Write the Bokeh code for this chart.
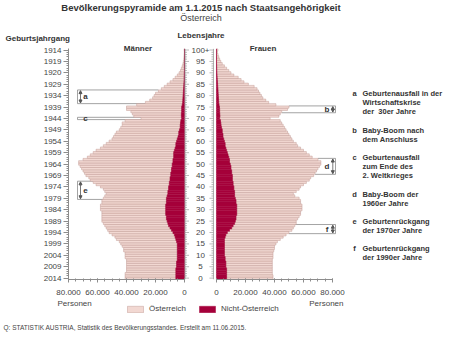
from bokeh.plotting import figure
from bokeh.models import (ColumnDataSource, FixedTicker, Range1d, Label, Legend,
                          LegendItem, Arrow, NormalHead, LinearAxis)
from bokeh.embed import file_html
from bokeh.resources import INLINE
from bokeh.core.properties import value

# ---------------- data (thousand persons, age 0 .. 100+) ----------------
ages = list(range(101))
men_at = [35, 35, 35, 34, 34, 34.5, 34.5, 34.5, 35, 36,
          36, 36, 37, 37, 38, 39, 39.5, 41, 41.5, 43,
          44, 44, 44, 44, 44.5, 45, 44.5, 44.5, 44, 44,
          45, 45, 45, 44.5, 44.5, 43.5, 43, 42.5, 43.5, 45,
          47, 50.5, 52.5, 55, 56, 58.5, 59.5, 61, 62, 63.5,
          64.5, 65, 62, 59.5, 57.5, 55.5, 54, 51.5, 50, 48,
          46.5, 45, 44.5, 44, 43, 41.5, 41, 40, 40.2, 38.4,
          28, 32.8, 33.8, 35, 38, 38, 31.4, 25.7, 22.8, 20.9,
          20, 19.1, 17.2, 15.3, 13.4, 11.5, 9.6, 7.7, 6.2, 4.8,
          3.6, 2.7, 2.1, 1.5, 1.0, 0.75, 0.48, 0.38, 0.28, 0.18, 0.28]
men_nat = [6, 6, 6, 6, 6, 5.5, 5.5, 5.5, 5, 5,
           5, 5, 5, 5, 5, 5, 5.5, 6, 6.5, 7,
           8, 9, 10, 11, 11.5, 12, 12.5, 12.5, 13, 13,
           13, 13, 13, 12.5, 12.5, 12.5, 12, 11.5, 11.5, 11,
           11, 10.5, 10.5, 10, 10, 9.5, 9.5, 9, 9, 8.5,
           8.5, 8, 8, 7.5, 7.5, 7.5, 7, 6.5, 6, 6,
           5.5, 5, 4.5, 4, 4, 3.5, 3, 3, 2.8, 2.6,
           2, 2.2, 2.2, 2, 2, 2, 1.6, 1.3, 1.2, 1.1,
           1, 0.9, 0.8, 0.7, 0.6, 0.5, 0.4, 0.3, 0.3, 0.2,
           0.2, 0.1, 0.1, 0.1, 0.1, 0.05, 0.02, 0.02, 0.02, 0.02, 0.02]
women_at = [32, 32, 31.5, 31.5, 31.5, 32, 32, 32, 32.5, 33,
            33.5, 33.5, 34, 34.5, 34.5, 35.5, 36.5, 38.5, 40, 41.5,
            42.5, 43, 42.5, 42.5, 42.5, 42, 42.5, 43.5, 44, 44,
            45, 45, 45, 44.5, 44.5, 44, 41.5, 40.5, 42.5, 45,
            46, 48.5, 50.5, 53, 54, 56, 57.5, 58.5, 60, 61,
            62.5, 63, 61, 57.5, 56, 54.5, 53, 51.5, 50, 49,
            47.5, 47, 46.5, 45.5, 45, 44, 43.5, 42.8, 42, 41.2,
            34.8, 40.6, 41.7, 42.8, 46.8, 47.9, 39.2, 34.4, 32.5, 30.6,
            29.7, 28.8, 27.9, 27, 25.1, 21.2, 18.3, 16.4, 14.5, 11.6,
            9.7, 8.25, 6.8, 5.35, 3.9, 2.92, 2.14, 1.55, 1.06, 0.67, 0.97]
women_nat = [7, 7, 7, 7, 7, 6.5, 6.5, 6.5, 6, 6,
             5.5, 5.5, 5.5, 5.5, 5.5, 5.5, 5.5, 5.5, 6, 6.5,
             7.5, 9, 10.5, 11.5, 12.5, 13, 13.5, 13.5, 14, 14,
             14, 14, 14, 13.5, 13.5, 13, 12.5, 12.5, 12.5, 12,
             12, 11.5, 11.5, 11, 11, 11, 10.5, 10.5, 10, 10,
             9.5, 9, 9, 8.5, 8, 7.5, 7, 6.5, 6, 6,
             5.5, 5, 4.5, 4.5, 4, 4, 3.5, 3.2, 3, 2.8,
             2.2, 2.4, 2.3, 2.2, 2.2, 2.1, 1.8, 1.6, 1.5, 1.4,
             1.3, 1.2, 1.1, 1, 0.9, 0.8, 0.7, 0.6, 0.5, 0.4,
             0.3, 0.25, 0.2, 0.15, 0.1, 0.08, 0.06, 0.05, 0.04, 0.03, 0.03]

age_tick_pos = [0, 5, 10, 15, 20, 25, 30, 35, 40, 45, 50, 55, 60, 65, 70, 75, 80, 85, 90, 95, 100]
age_tick_labels = ["0", "5", "10", "15", "20", "25", "30", "35", "40", "45", "50",
                   "55", "60", "65", "70", "75", "80", "85", "90", "95", "100+"]
birth_labels = ["2014", "2009", "2004", "1999", "1994", "1989", "1984", "1979", "1974",
                "1969", "1964", "1959", "1954", "1949", "1944", "1939", "1934", "1929",
                "1920", "1919", "1914"]
person_ticks = [0, 20000, 40000, 60000, 80000]
person_labels = ["0", "20.000", "40.000", "60.000", "80.000"]

ann_letters = ["a", "b", "c", "d", "e", "f"]
ann_side = ["m", "w", "m", "w", "m", "w"]
ann_age_from = [76.5, 72.5, 69.5, 45.5, 34.5, 19.5]
ann_age_to = [82.5, 75.5, 70.5, 52.5, 42.5, 23.5]
note_lines = [
    ["Geburtenausfall in der", "Wirtschaftskrise", "der \u00a030er Jahre"],
    ["Baby-Boom nach", "dem Anschluss"],
    ["Geburtenausfall", "zum Ende des", "2. Weltkrieges"],
    ["Baby-Boom der", "1960er Jahre"],
    ["Geburtenrückgang", "der 1970er Jahre"],
    ["Geburtenrückgang", "der 1990er Jahre"],
]
legend_labels = ["Österreich", "Nicht-Österreich"]

# ---------------- geometry ----------------
G = 11000            # half gap between the two halves (persons)
XMAX = 80000
FONT = "Liberation Sans"
TXT = "#333333"
TICKTXT = "#444444"
LIGHT = "#f2d8d2"
LIGHT_LINE = "#c29d97"
DARK = "#a5003a"
GRID = "#8c8c8c"

XPP = (2 * (G + XMAX)) / 264.0      # persons per pixel (frame 68..332 px)
YPP = 103.9 / 237.0                 # years per pixel


def X(px):
    return -G - XMAX + (px - 68) * XPP


def Y(py):
    return -0.6 + (279 - py) * YPP


p = figure(width=450, height=337, output_backend="svg", toolbar_location=None,
           x_range=Range1d(X(0), X(450)), y_range=Range1d(Y(337), Y(0)),
           x_axis_location=None, y_axis_location=None, min_border=0)
p.title.visible = False
p.outline_line_color = None
p.xgrid.visible = False
p.ygrid.visible = False
p.background_fill_color = "white"
p.border_fill_color = "white"

k = 1000.0
src = ColumnDataSource(dict(
    age=ages,
    m_nat_l=[-G - k * n for n in men_nat],
    m_at_l=[-G - k * (n + a) for n, a in zip(men_nat, men_at)],
    w_nat_r=[G + k * n for n in women_nat],
    w_at_r=[G + k * (n + a) for n, a in zip(women_nat, women_at)],
))

# ---- annotation boxes (under the bars) ----
m_tot = [k * (a + n) for a, n in zip(men_at, men_nat)]
w_tot = [k * (a + n) for a, n in zip(women_at, women_nat)]
m_outer, m_arrow, m_letter = X(77), X(80), X(85)
w_outer, w_arrow, w_letter = X(335), X(332.3), X(326.5)
hx0, hx1, hy = [], [], []
vx, vy0, vy1 = [], [], []
ax, ay0, ay1 = [], [], []
lx, ly, lt = [], [], []
for let, side, a0, a1 in zip(ann_letters, ann_side, ann_age_from, ann_age_to):
    top_in = int(a1 - 0.5)
    bot_in = int(a0 + 0.5)
    if side == "m":
        outer, arr, lxx = m_outer, m_arrow, m_letter
        e_top, e_bot = -G - m_tot[top_in], -G - m_tot[bot_in]
    else:
        outer, arr, lxx = w_outer, w_arrow, w_letter
        e_top, e_bot = G + w_tot[top_in], G + w_tot[bot_in]
    hx0 += [outer, outer]
    hx1 += [e_top, e_bot]
    hy += [a1, a0]
    vx.append(outer); vy0.append(a0); vy1.append(a1)
    if a1 - a0 > 2:
        ax.append(arr); ay0.append(a0 + 0.3); ay1.append(a1 - 0.3)
    lx.append(lxx); ly.append((a0 + a1) / 2.0); lt.append(let)

p.segment(x0=hx0, y0=hy, x1=hx1, y1=hy, line_color=GRID, line_width=0.8)
p.segment(x0=vx, y0=vy0, x1=vx, y1=vy1, line_color=GRID, line_width=0.8)
arr_src = ColumnDataSource(dict(x=ax, y0=ay0, y1=ay1))
p.add_layout(Arrow(x_start="x", y_start="y0", x_end="x", y_end="y1", source=arr_src,
                   line_color="#555555", line_width=0.8,
                   start=NormalHead(size=3, line_color="#555555", fill_color="#555555"),
                   end=NormalHead(size=3, line_color="#555555", fill_color="#555555")))
p.text(x=lx, y=ly, text=lt, text_align="center", text_baseline="middle",
       text_font_size="8px", text_font_style="bold", text_color=TXT, text_font=value(FONT))

# ---- bars ----
r_m_at = p.hbar(y="age", left="m_at_l", right="m_nat_l", height=1.0, source=src,
                fill_color=LIGHT, line_color=LIGHT_LINE, line_width=0.5)
r_m_nat = p.hbar(y="age", left="m_nat_l", right=-G, height=1.0, source=src,
                 fill_color=DARK, line_color=DARK, line_width=0.5)
p.hbar(y="age", left="w_nat_r", right="w_at_r", height=1.0, source=src,
       fill_color=LIGHT, line_color=LIGHT_LINE, line_width=0.5)
p.hbar(y="age", left=G, right="w_nat_r", height=1.0, source=src,
       fill_color=DARK, line_color=DARK, line_width=0.5)

# ---- central age scale ----
cx_l, cx_r = -G + 0.5 * XPP, G - 3 * XPP
p.segment(x0=[cx_l, cx_r], y0=[-0.5, -0.5], x1=[cx_l, cx_r], y1=[100.5, 100.5],
          line_color=GRID, line_width=0.7)
tick_len = [(4 if a % 5 == 0 else 2) * XPP for a in ages]
p.segment(x0=[cx_l] * len(ages), y0=ages, x1=[cx_l + t for t in tick_len], y1=ages,
          line_color=GRID, line_width=0.6)
p.segment(x0=[cx_r] * len(ages), y0=ages, x1=[cx_r - t for t in tick_len], y1=ages,
          line_color=GRID, line_width=0.6)
p.text(x=[0] * len(age_tick_pos), y=age_tick_pos, text=age_tick_labels,
       text_align="center", text_baseline="middle", text_font_size="8px",
       text_color=TICKTXT, text_font=value(FONT))


# ---- axes (drawn at fixed positions inside the canvas) ----
def style_axis(ax_):
    ax_.axis_line_color = GRID
    ax_.major_tick_line_color = GRID
    ax_.minor_tick_line_color = GRID
    ax_.major_label_text_font_size = "8px"
    ax_.major_label_text_color = TICKTXT
    ax_.major_label_text_font = FONT


ya = LinearAxis(fixed_location=X(68), bounds=(-0.6, 100.5),
                ticker=FixedTicker(ticks=age_tick_pos, minor_ticks=ages),
                major_label_overrides={a: l for a, l in zip(age_tick_pos, birth_labels)},
                major_tick_out=5, major_tick_in=0, minor_tick_out=2, minor_tick_in=0,
                major_label_standoff=2)
style_axis(ya)
p.add_layout(ya, "left")

xminor = list(range(0, XMAX + 1, 5000))
xm = LinearAxis(fixed_location=-0.6, bounds=(-G - XMAX, -G),
                ticker=FixedTicker(ticks=[-G - v for v in person_ticks],
                                   minor_ticks=[-G - v for v in xminor]),
                major_label_overrides={-G - v: l for v, l in zip(person_ticks, person_labels)},
                major_tick_out=3, major_tick_in=1, minor_tick_out=2, minor_tick_in=1,
                major_label_standoff=7)
style_axis(xm)
p.add_layout(xm, "below")
xw = LinearAxis(fixed_location=-0.6, bounds=(G, G + XMAX),
                ticker=FixedTicker(ticks=[G + v for v in person_ticks],
                                   minor_ticks=[G + v for v in xminor]),
                major_label_overrides={G + v: l for v, l in zip(person_ticks, person_labels)},
                major_tick_out=3, major_tick_in=1, minor_tick_out=2, minor_tick_in=1,
                major_label_standoff=7)
style_axis(xw)
p.add_layout(xw, "below")


# ---- texts ----
def lab(x, y, t, size="8px", style="normal", align="left", color=TXT):
    p.add_layout(Label(x=x, y=y, text=t, text_font=FONT, text_font_size=size,
                       text_font_style=style, text_align=align, text_baseline="middle",
                       text_color=color))


lab(X(200.5), Y(7), "Bevölkerungspyramide am 1.1.2015 nach Staatsangehörigkeit", "9.5px", "bold", "center")
lab(X(200.5), Y(17), "Österreich", "9px", "normal", "center", TICKTXT)
lab(X(5), Y(38), "Geburtsjahrgang", "8px", "bold")
lab(X(200.5), Y(35), "Lebensjahre", "8px", "bold", "center")
lab(X(137.5), Y(48), "Männer", "8px", "bold", "center")
lab(X(262.5), Y(48), "Frauen", "8px", "bold", "center")
lab(X(57), Y(303), "Personen", "8px", "normal", "left", TICKTXT)
lab(X(343), Y(303), "Personen", "8px", "normal", "right", TICKTXT)
lab(X(3), Y(327), "Q: STATISTIK AUSTRIA, Statistik des Bevölkerungsstandes. Erstellt am 11.06.2015.",
    "6.5px", "normal", "left", TICKTXT)

note_y0 = [93, 130, 157, 194, 221, 248]
for let, lines, y0 in zip(ann_letters, note_lines, note_y0):
    lab(X(354), Y(y0), let, "7.5px", "bold", "center")
    for i, line in enumerate(lines):
        lab(X(362), Y(y0 + 8.8 * i), line, "7.5px", "bold")

legend = Legend(items=[LegendItem(label=legend_labels[0], renderers=[r_m_at]),
                       LegendItem(label=legend_labels[1], renderers=[r_m_nat])],
                orientation="horizontal", location=(125, 24), glyph_width=20, glyph_height=8,
                label_height=8, label_text_font_size="8px", label_text_font=FONT,
                label_text_color=TICKTXT, spacing=11, padding=0, margin=0, label_standoff=4,
                border_line_color=None, background_fill_alpha=0)
p.add_layout(legend)

open("out.html", "w").write(file_html(p, INLINE))
